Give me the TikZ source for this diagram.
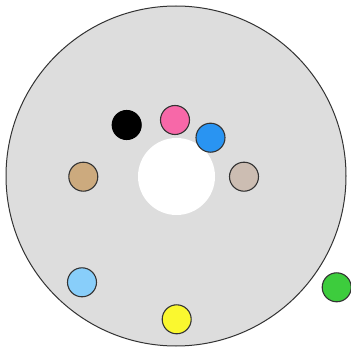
\documentclass[tikz,border=0pt]{standalone}
\definecolor{bg}{HTML}{DDDDDD}
\definecolor{edge}{HTML}{333333}
\definecolor{cpink}{HTML}{F768A8}
\definecolor{cblue}{HTML}{2994F2}
\definecolor{ctan}{HTML}{CCAA7E}
\definecolor{ctaupe}{HTML}{CCBDB2}
\definecolor{clblue}{HTML}{88CEFA}
\definecolor{cyellow}{HTML}{FAF82F}
\definecolor{cgreen}{HTML}{3DCC3D}
\begin{document}
\begin{tikzpicture}[x=1pt,y=-1pt,
  dot/.style={circle,draw=edge,line width=1.1pt,minimum size=29pt,inner sep=0pt}]
\useasboundingbox (0,0) rectangle (351,350);
\node[circle,draw=edge,fill=bg,line width=1pt,minimum size=340pt,inner sep=0pt] (disc) at (176,176) {};
\node[circle,fill=white,minimum size=77pt,inner sep=0pt] (hole) at (176.5,176.5) {};
\node[dot,fill=black,draw=black] (k) at (126.7,125) {};
\node[dot,fill=cpink] (p) at (175,120) {};
\node[dot,fill=cblue] (b) at (210.5,137.7) {};
\node[dot,fill=ctan] (t) at (83.3,176.7) {};
\node[dot,fill=ctaupe] (u) at (244,176.7) {};
\node[dot,fill=clblue] (l) at (82,282.3) {};
\node[dot,fill=cyellow] (y) at (176.7,319.3) {};
\node[dot,fill=cgreen] (g) at (336.7,287.3) {};
\end{tikzpicture}
\end{document}
